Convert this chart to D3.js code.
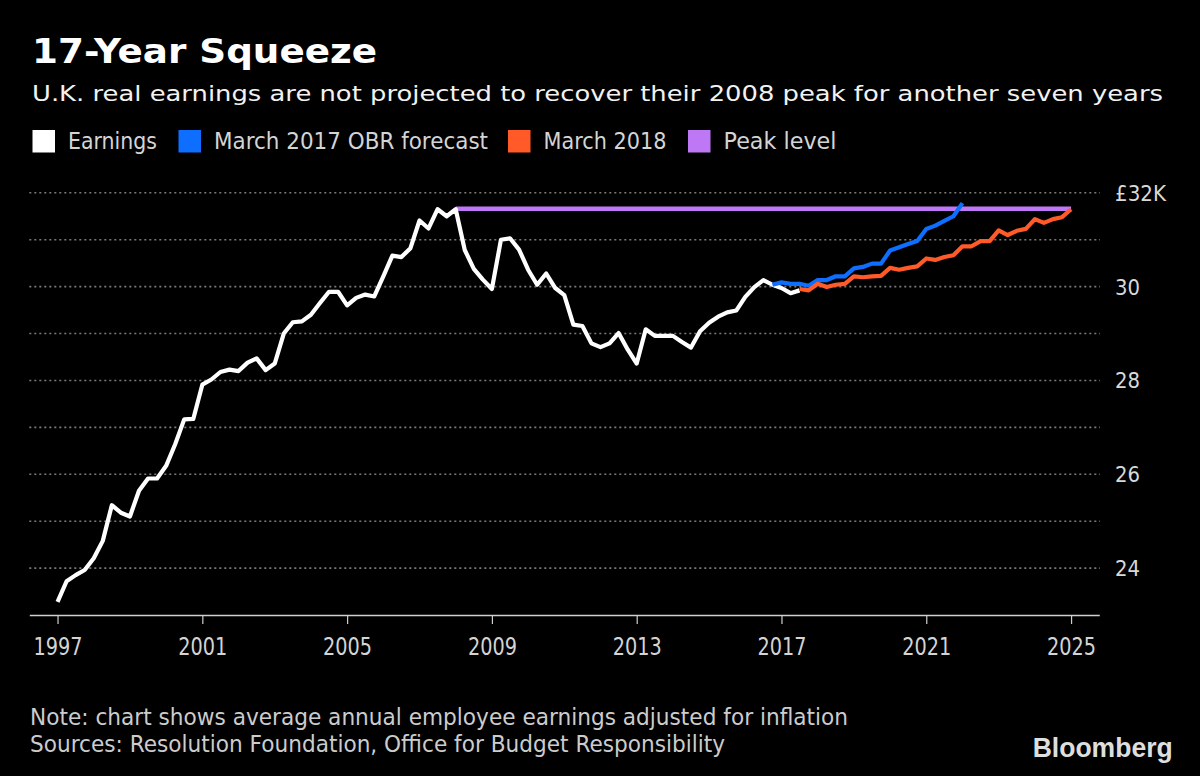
<!DOCTYPE html>
<html>
<head>
<meta charset="utf-8">
<script src="https://cdn.jsdelivr.net/npm/d3@7"></script>
<style>
  html, body { margin: 0; padding: 0; background: #000; }
  svg { display: block; }
</style>
</head>
<body>
<svg id="chart" width="1200" height="776"></svg>
<script>
// ---------- DATA ----------
const title = "17-Year Squeeze";
const subtitle = "U.K. real earnings are not projected to recover their 2008 peak for another seven years";
const note = "Note: chart shows average annual employee earnings adjusted for inflation";
const sources = "Sources: Resolution Foundation, Office for Budget Responsibility";

const legendLabels = ["Earnings", "March 2017 OBR forecast", "March 2018", "Peak level"];
const seriesColors = ["#ffffff", "#0d6eff", "#ff5a28", "#bf78f5"];

// quarterly series, start = first quarter (year, quarter index 0..3)
const earningsStart = [1997, 0];
const earnings = [
  23.28, 23.72, 23.85, 23.96, 24.21, 24.58, 25.34, 25.18, 25.10, 25.65,
  25.91, 25.91, 26.18, 26.64, 27.17, 27.18, 27.91, 28.02, 28.18, 28.23,
  28.20, 28.38, 28.47, 28.22, 28.36, 29.00, 29.24, 29.26, 29.40, 29.65,
  29.89, 29.89, 29.60, 29.76, 29.83, 29.79, 30.22, 30.66, 30.63, 30.82,
  31.41, 31.24, 31.65, 31.50, 31.65, 30.78, 30.38, 30.15, 29.95, 31.00,
  31.03, 30.79, 30.36, 30.04, 30.28, 29.97, 29.82, 29.19, 29.16, 28.79,
  28.71, 28.79, 29.01, 28.66, 28.36, 29.09, 28.95, 28.95, 28.95, 28.82,
  28.70, 29.05, 29.23, 29.36, 29.45, 29.49, 29.78, 29.99, 30.14, 30.04,
  29.97, 29.86, 29.92
];

const obr2017Start = [2016, 3];
const obr2017 = [
  30.04, 30.09, 30.06, 30.06, 30.02, 30.14, 30.14, 30.22, 30.22, 30.39,
  30.42, 30.49, 30.49, 30.77, 30.84, 30.91, 30.97, 31.23, 31.30, 31.40,
  31.50, 31.78
];

const march2018Start = [2017, 2];
const march2018 = [
  29.95, 29.92, 30.06, 29.99, 30.04, 30.06, 30.22, 30.20, 30.22, 30.23,
  30.40, 30.36, 30.40, 30.43, 30.60, 30.57, 30.63, 30.67, 30.86, 30.86,
  30.97, 30.97, 31.20, 31.10, 31.19, 31.23, 31.44, 31.36, 31.44, 31.48,
  31.65
];

const peakYears = [2008, 2025];
const peakValue = 31.66;

const xTickYears = [1997, 2001, 2005, 2009, 2013, 2017, 2021, 2025];
const yGridValues = [24, 25, 26, 27, 28, 29, 30, 31, 32];
const yLabelValues = [24, 26, 28, 30, 32];
const yLabelText = ["24", "26", "28", "30", "£32K"];

// ---------- CHART ----------
const svg = d3.select("#chart");
svg.append("rect").attr("width", 1200).attr("height", 776).attr("fill", "#000");

const x = d3.scaleLinear().domain([1996.22, 2025.78]).range([29.3, 1099.3]);
const y = d3.scaleLinear().domain([23.0, 32.0]).range([615, 192.8]);

const toPoints = (start, vals) =>
  vals.map((v, i) => ({ t: start[0] + (start[1] + i) / 4, v }));

const FONT = "'DejaVu Sans', 'Noto Sans', sans-serif";

function txt(str, xPos, yPos, size, color, len, opts = {}) {
  const t = svg.append("text")
    .attr("x", xPos).attr("y", yPos)
    .attr("font-family", opts.family || FONT)
    .attr("font-size", size)
    .attr("font-weight", opts.weight || "normal")
    .attr("fill", color)
    .attr("text-anchor", opts.anchor || "start")
    .text(str);
  if (len) t.attr("textLength", len).attr("lengthAdjust", "spacingAndGlyphs");
  return t;
}

// Titles
txt(title, 32, 62.5, 34, "#ffffff", 345, { weight: "bold" });
txt(subtitle, 32, 101, 22, "#f2f2f2", 1131);

// Legend
const legendSquares = [32.5, 178.5, 508, 688];
const legendTextX = [68, 214, 543.5, 723.5];
const legendTextW = [89, 274, 123, 113];
legendLabels.forEach((lab, i) => {
  svg.append("rect")
    .attr("x", legendSquares[i]).attr("y", 130)
    .attr("width", 22.5).attr("height", 22.5)
    .attr("fill", seriesColors[i]);
  txt(lab, legendTextX[i], 149, 23, "#d4d4d4", legendTextW[i]);
});

// Gridlines
svg.append("g").selectAll("line").data(yGridValues).join("line")
  .attr("x1", 29.3).attr("x2", 1100)
  .attr("y1", d => y(d)).attr("y2", d => y(d))
  .attr("stroke", "#7a7a7a").attr("stroke-width", 1.6)
  .attr("stroke-dasharray", "2,3");

// Y labels
yLabelValues.forEach((v, i) => {
  txt(yLabelText[i], 1115, y(v) + 8, 22, "#d9d9d9", yLabelText[i].length === 4 ? 51 : 25);
});

// X axis
const xAxis = d3.axisBottom(x).tickValues(xTickYears).tickSize(9).tickSizeOuter(0).tickFormat(d3.format("d"));
const gx = svg.append("g").attr("transform", "translate(0,615)").call(xAxis);
gx.select(".domain").attr("stroke", "#cfcfcf").attr("stroke-width", 1.5);
gx.selectAll(".tick line").attr("stroke", "#cfcfcf").attr("stroke-width", 1.2);
gx.selectAll(".tick text")
  .attr("y", 0).attr("dy", 0)
  .attr("transform", "translate(0,40)")
  .attr("font-family", FONT).attr("font-size", 24)
  .attr("fill", "#d4d4d4")
  .attr("textLength", 49).attr("lengthAdjust", "spacingAndGlyphs");

// Lines
const line = d3.line().x(d => x(d.t)).y(d => y(d.v));
const plot = svg.append("g").attr("fill", "none")
  .attr("stroke-linejoin", "round").attr("stroke-width", 4.2);

plot.append("path")
  .datum([{ t: peakYears[0], v: peakValue }, { t: peakYears[1], v: peakValue }])
  .attr("d", line).attr("stroke", seriesColors[3]).attr("stroke-width", 4.5);

plot.append("path").datum(toPoints(earningsStart, earnings))
  .attr("d", line).attr("stroke", seriesColors[0]);
plot.append("path").datum(toPoints(obr2017Start, obr2017))
  .attr("d", line).attr("stroke", seriesColors[1]);
plot.append("path").datum(toPoints(march2018Start, march2018))
  .attr("d", line).attr("stroke", seriesColors[2]);

// Footer
txt(note, 30, 725, 23, "#cccccc", 818);
txt(sources, 30, 752, 23, "#cccccc", 695);
txt("Bloomberg", 1172.7, 756.5, 27, "#dedede", 140,
    { weight: "bold", anchor: "end", family: "'Liberation Sans', Arial, sans-serif" });
</script>
</body>
</html>
